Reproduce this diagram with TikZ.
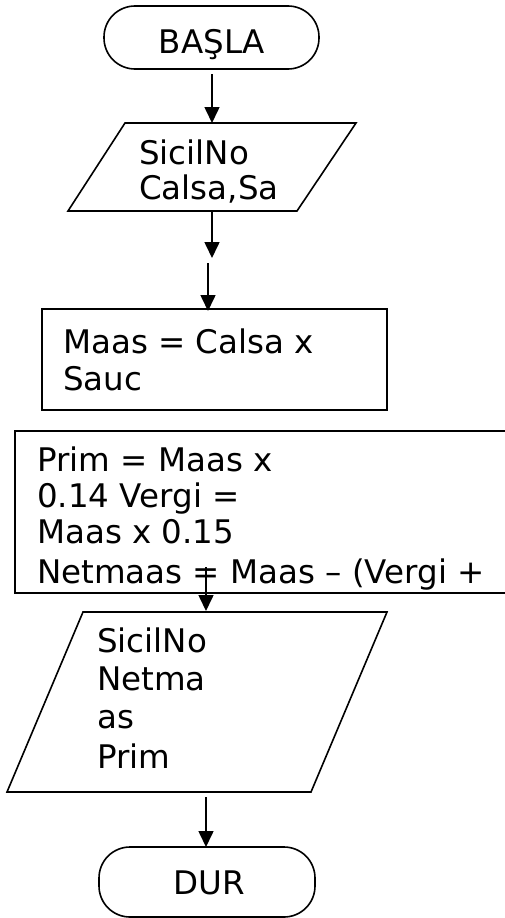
\documentclass[tikz,border=0pt]{standalone}
\usepackage{fontspec}
\setmainfont{DejaVu Sans}
\usetikzlibrary{arrows.meta}
\begin{document}
\begin{tikzpicture}[x=1pt,y=-1pt,
  ln/.style={draw=black, line width=1.6pt},
  term/.style={ln, rounded corners=31pt, inner sep=0pt},
  boxs/.style={ln, inner sep=0pt},
  txt/.style={anchor=base west, inner sep=0pt, font=\fontsize{32.5}{37}\selectfont},
  arr/.style={-{Triangle[width=15pt,length=16pt]}, line width=1.6pt}
]
\useasboundingbox (0,0) rectangle (504,918);
% terminals
\node[term, minimum width=215pt, minimum height=63pt] (start) at (211.5,37.5) {};
\node[txt, anchor=base] (startT) at (212,53) {BAŞLA};
\node[term, minimum width=216pt, minimum height=70pt] (stop) at (207,882) {};
\node[txt, anchor=base] (stopT) at (209.5,894) {DUR};
% rectangles
\node[boxs, minimum width=345pt, minimum height=101pt] (r1) at (214.5,359.5) {};
\node[boxs, minimum width=520pt, minimum height=162pt] (r2) at (275,512) {};
% parallelograms
\coordinate (p1a) at (125,123); \coordinate (p1b) at (356,123);
\coordinate (p1c) at (297,211); \coordinate (p1d) at (68,211);
\draw[ln, line join=miter] (p1a) -- (p1b) -- (p1c) -- (p1d) -- cycle;
\coordinate (p2a) at (83,612); \coordinate (p2b) at (387,612);
\coordinate (p2c) at (311,792); \coordinate (p2d) at (7,792);
\draw[ln, line join=miter] (p2a) -- (p2b) -- (p2c) -- (p2d) -- cycle;
% texts
\node[txt] (t1a) at (139,164) {SicilNo};
\node[txt] (t1b) at (139,199) {Calsa,Sa};
\node[txt] (t2a) at (63,353) {Maas = Calsa x};
\node[txt] (t2b) at (63,390) {Sauc};
\node[txt] (t3a) at (37,471) {Prim = Maas x};
\node[txt] (t3b) at (37,507) {0.14 Vergi =};
\node[txt] (t3c) at (37,543) {Maas x 0.15};
\node[txt] (t3d) at (37,583) {Netmaas = Maas – (Vergi +};
\node[txt] (t4a) at (97,652) {SicilNo};
\node[txt] (t4b) at (97,690) {Netma};
\node[txt] (t4c) at (97,728) {as};
\node[txt] (t4d) at (97,768) {Prim};
% connector coordinates
\coordinate (a1s) at (212,74);  \coordinate (a1e) at (212,123);
\coordinate (a2s) at (212,211); \coordinate (a2e) at (212,258);
\coordinate (a3s) at (208,263); \coordinate (a3e) at (208,311);
\coordinate (a4s) at (206,567); \coordinate (a4e) at (206,611);
\coordinate (a5s) at (206,797); \coordinate (a5e) at (206,847);
\draw[arr] (a1s) -- (a1e);
\draw[arr] (a2s) -- (a2e);
\draw[arr] (a3s) -- (a3e);
\draw[arr] (a4s) -- (a4e);
\draw[arr] (a5s) -- (a5e);
\end{tikzpicture}
\end{document}
